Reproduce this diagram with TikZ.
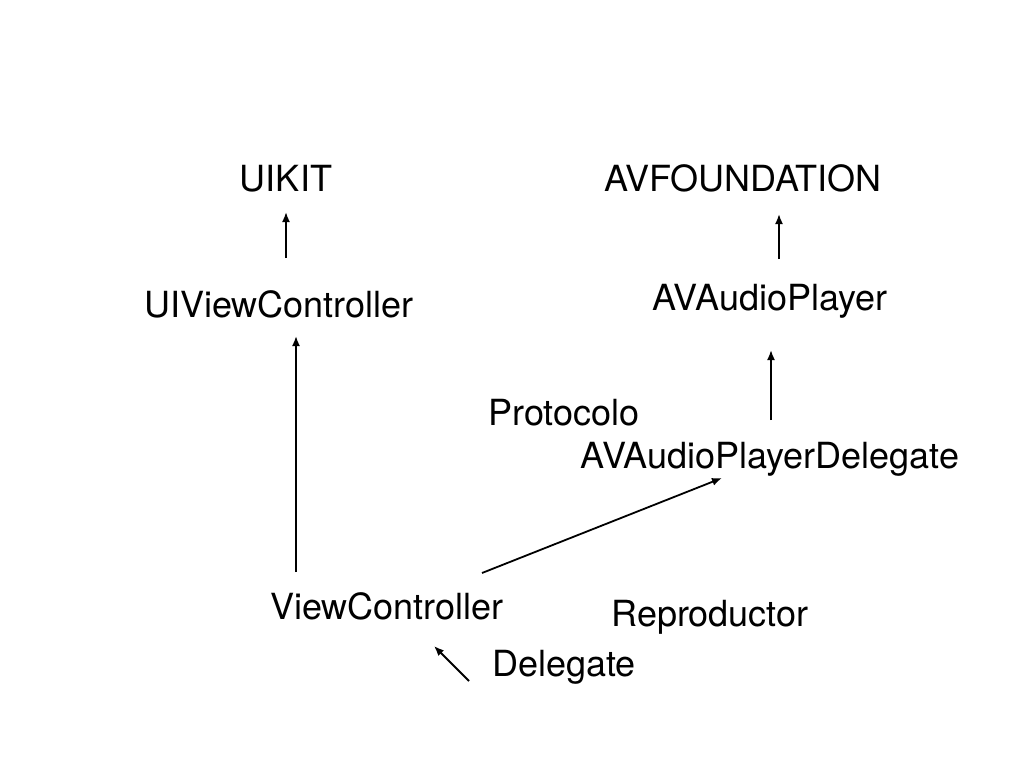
\documentclass[tikz,border=0pt]{standalone}
\usepackage{fontspec}
\setmainfont{TeX Gyre Heros}
\usetikzlibrary{arrows.meta}
\begin{document}
\begin{tikzpicture}[x=1pt,y=-1pt,
  lbl/.style={anchor=base,inner sep=0pt,font=\fontsize{36}{42}\selectfont},
  arr/.style={-{Latex[length=10pt,width=8pt]},line width=1.8pt}]
\useasboundingbox[fill=white] (0,0) rectangle (1028,772);
\node[lbl] (uikit) at (286,191) {UIKIT};
\node[lbl] (avf) at (743,191) {AVFOUNDATION};
\node[lbl] (uivc) at (279,317) {UIViewController};
\node[lbl] (avp) at (770,310) {AVAudioPlayer};
\node[lbl] (proto) at (564,425) {Protocolo};
\node[lbl] (avpd) at (770,468) {AVAudioPlayerDelegate};
\node[lbl] (vc) at (387,619) {ViewController};
\node[lbl] (rep) at (710,626) {Reproductor};
\node[lbl] (del) at (564,676) {Delegate};
\coordinate (a1s) at (286,258); \coordinate (a1e) at (286,212);
\coordinate (a2s) at (296,572); \coordinate (a2e) at (296,336);
\coordinate (a3s) at (779,259); \coordinate (a3e) at (779,214);
\coordinate (a4s) at (771,420); \coordinate (a4e) at (771,350);
\coordinate (a5s) at (482,573); \coordinate (a5e) at (722,478);
\coordinate (a6s) at (469,681); \coordinate (a6e) at (434,646);
\draw[arr] (a1s) -- (a1e);
\draw[arr] (a2s) -- (a2e);
\draw[arr] (a3s) -- (a3e);
\draw[arr] (a4s) -- (a4e);
\draw[arr] (a5s) -- (a5e);
\draw[arr] (a6s) -- (a6e);
\end{tikzpicture}
\end{document}
